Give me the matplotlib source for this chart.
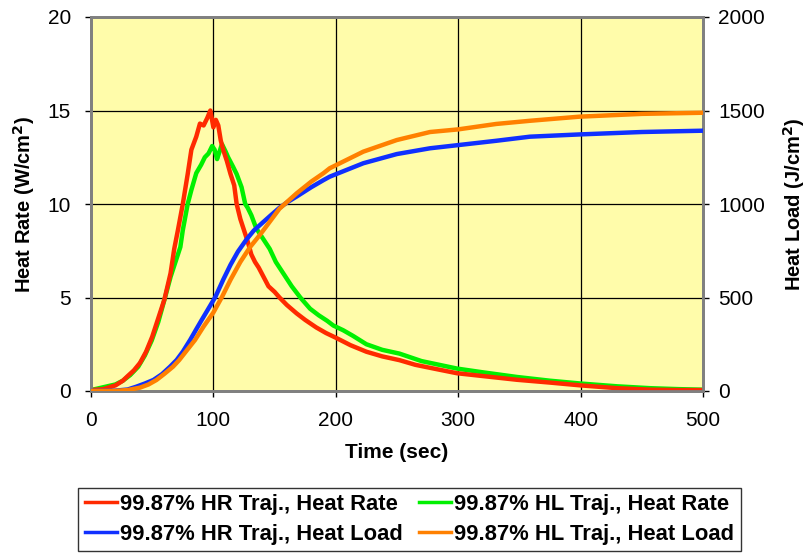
import matplotlib
matplotlib.use("Agg")
import matplotlib.pyplot as plt
from matplotlib.lines import Line2D

plt.rcParams['font.family'] = ['Liberation Sans', 'DejaVu Sans']

# Heat rate, 99.87% HR trajectory (W/cm^2)
hr_rate_t = [0, 10, 20, 26, 30, 35, 40, 45, 50, 55, 60, 65, 68, 71, 75, 79, 82, 86,
             89, 92, 95, 97.5, 100, 102, 104, 106, 108, 111, 114, 117, 119, 122, 125,
             128, 131, 134, 137, 141, 145, 150, 154, 160, 168, 175, 184, 192, 200, 212,
             225, 238, 252, 265, 280, 299, 320, 348, 375, 400, 430, 457, 480, 500]
hr_rate_v = [0.05, 0.1, 0.3, 0.55, 0.8, 1.1, 1.5, 2.1, 2.9, 3.9, 4.9, 6.3, 7.6, 8.6, 10.0,
             11.6, 12.9, 13.6, 14.3, 14.2, 14.6, 15.0, 14.1, 14.5, 14.2, 13.4, 12.9, 12.3,
             11.6, 11.0, 10.0, 9.2, 8.6, 8.0, 7.3, 6.9, 6.6, 6.1, 5.6, 5.3, 5.0, 4.6, 4.15,
             3.8, 3.4, 3.1, 2.85, 2.45, 2.1, 1.85, 1.65, 1.4, 1.2, 0.95, 0.8, 0.6, 0.45,
             0.3, 0.15, 0.07, 0.05, 0.05]

# Heat rate, 99.87% HL trajectory (W/cm^2)
hl_rate_t = [0, 10, 20, 26, 32, 38.6, 44, 49.6, 55, 60.5, 65, 69, 73, 75, 79, 82, 86, 90,
             93, 96, 99, 101, 103, 105, 107, 110, 112, 116, 119, 123, 126, 128, 131, 135,
             140, 146, 151, 157, 164, 171, 179, 186, 193, 198, 206, 214, 225, 238, 252,
             270, 299, 320, 348, 375, 400, 430, 457, 480, 500]
hl_rate_v = [0.05, 0.2, 0.35, 0.55, 0.85, 1.3, 1.9, 2.7, 3.7, 5.0, 6.1, 6.9, 7.7, 8.6, 10.0,
             10.75, 11.65, 12.1, 12.5, 12.7, 13.1, 12.9, 12.4, 12.8, 13.2, 12.8, 12.5, 12.0,
             11.6, 10.9, 10.0, 9.8, 9.4, 8.7, 8.2, 7.6, 6.9, 6.3, 5.6, 5.0, 4.4, 4.05, 3.75,
             3.5, 3.25, 2.95, 2.5, 2.2, 2.0, 1.6, 1.2, 1.0, 0.75, 0.55, 0.4, 0.25, 0.15,
             0.1, 0.07]

# Heat load, 99.87% HR trajectory (J/cm^2)
hr_load_t = [0, 20, 30, 37, 44, 51, 58, 64.6, 70, 75, 81, 86, 90, 95, 101.6, 108, 114, 120,
             127, 133, 141, 147, 154, 161, 168, 180, 190, 195, 222.5, 249.8, 277, 300, 331,
             358.6, 399, 450, 500]
hr_load_v = [0, 2, 8, 23, 40, 59, 90, 130, 166, 210, 273, 330, 375, 430, 503, 595, 675, 745,
             810, 858, 905, 940, 980, 1012, 1040, 1090, 1128, 1146, 1218, 1267, 1298, 1315,
             1338, 1360, 1372, 1385, 1392]

# Heat load, 99.87% HL trajectory (J/cm^2)
hl_load_t = [0, 20, 30, 40, 47, 53.5, 60, 67, 72, 78, 85, 92, 100, 107, 114, 122, 130, 138,
             141, 154, 168, 180, 190, 195, 222.5, 249.8, 277, 300, 331, 358.6, 399, 450, 500]
hl_load_v = [0, 1, 5, 18, 35, 59, 92, 130, 165, 215, 273, 345, 420, 503, 595, 690, 770, 835,
             861, 975, 1057, 1120, 1165, 1191, 1280, 1342, 1385, 1399, 1428, 1445, 1467, 1482,
             1488]

x_ticks = [0, 100, 200, 300, 400, 500]
left_ticks = [0, 5, 10, 15, 20]
right_ticks = [0, 500, 1000, 1500, 2000]

labels = ["99.87% HR Traj., Heat Rate", "99.87% HL Traj., Heat Rate",
          "99.87% HR Traj., Heat Load", "99.87% HL Traj., Heat Load"]
colors = ["#FF2A00", "#00F000", "#1030FF", "#FF8000"]

fig = plt.figure(figsize=(8.06, 5.55), dpi=100)
ax = fig.add_axes([91 / 806, 1 - 391 / 555, 612 / 806, 374 / 555])
ax2 = ax.twinx()

ax.set_facecolor("#FFFCAA")
ax.set_xlim(0, 500)
ax.set_ylim(0, 20)
ax2.set_ylim(0, 2000)
ax.set_xticks(x_ticks)
ax.set_yticks(left_ticks)
ax2.set_yticks(right_ticks)

ax.grid(True, color="black", linewidth=0.9)
ax.set_axisbelow(True)

lw = 3.2
ax.plot(hl_rate_t, hl_rate_v, color=colors[1], lw=lw, zorder=3)
ax.plot(hr_rate_t, hr_rate_v, color=colors[0], lw=lw, zorder=4)
ax2.plot(hr_load_t, hr_load_v, color=colors[2], lw=lw, zorder=3)
ax2.plot(hl_load_t, hl_load_v, color=colors[3], lw=lw, zorder=4)

for a in (ax, ax2):
    for s in a.spines.values():
        s.set_color("#808080")
        s.set_linewidth(2.0)
ax.tick_params(axis="x", labelsize=15, length=4.5, width=1.0, color="black", pad=10)
ax.tick_params(axis="y", labelsize=15, length=4.5, width=1.0, color="black", pad=10)
ax2.tick_params(axis="y", labelsize=15, length=4.5, width=1.0, color="black", pad=6.5)

ax.set_xlabel("Time (sec)", fontsize=15, fontweight="bold", labelpad=9)
ax.set_ylabel("Heat Rate (W/cm$^\\mathbf{2}$)", fontsize=14.5, fontweight="bold")
ax2.set_ylabel("Heat Load (J/cm$^\\mathbf{2}$)", fontsize=14.5, fontweight="bold")
ax.yaxis.set_label_coords((37 - 91) / 612, 0.5)
ax2.yaxis.set_label_coords((781 - 91) / 612, 0.5)

handles = [Line2D([], [], color=colors[0], lw=2.5),
           Line2D([], [], color=colors[2], lw=2.5),
           Line2D([], [], color=colors[1], lw=2.5),
           Line2D([], [], color=colors[3], lw=2.5)]
leg = fig.legend(handles, [labels[0], labels[2], labels[1], labels[3]], ncol=2,
                 loc="center", bbox_to_anchor=(409.5 / 806, 1 - 519.5 / 555),
                 frameon=True, fancybox=False, edgecolor="black",
                 prop={"weight": "bold", "size": 15.8}, handlelength=1.45,
                 handletextpad=0.15, columnspacing=0.75, labelspacing=0.4,
                 borderpad=0.3, borderaxespad=0)
leg.get_frame().set_linewidth(1.0)

fig.savefig("out.png", dpi=100, facecolor="white")
